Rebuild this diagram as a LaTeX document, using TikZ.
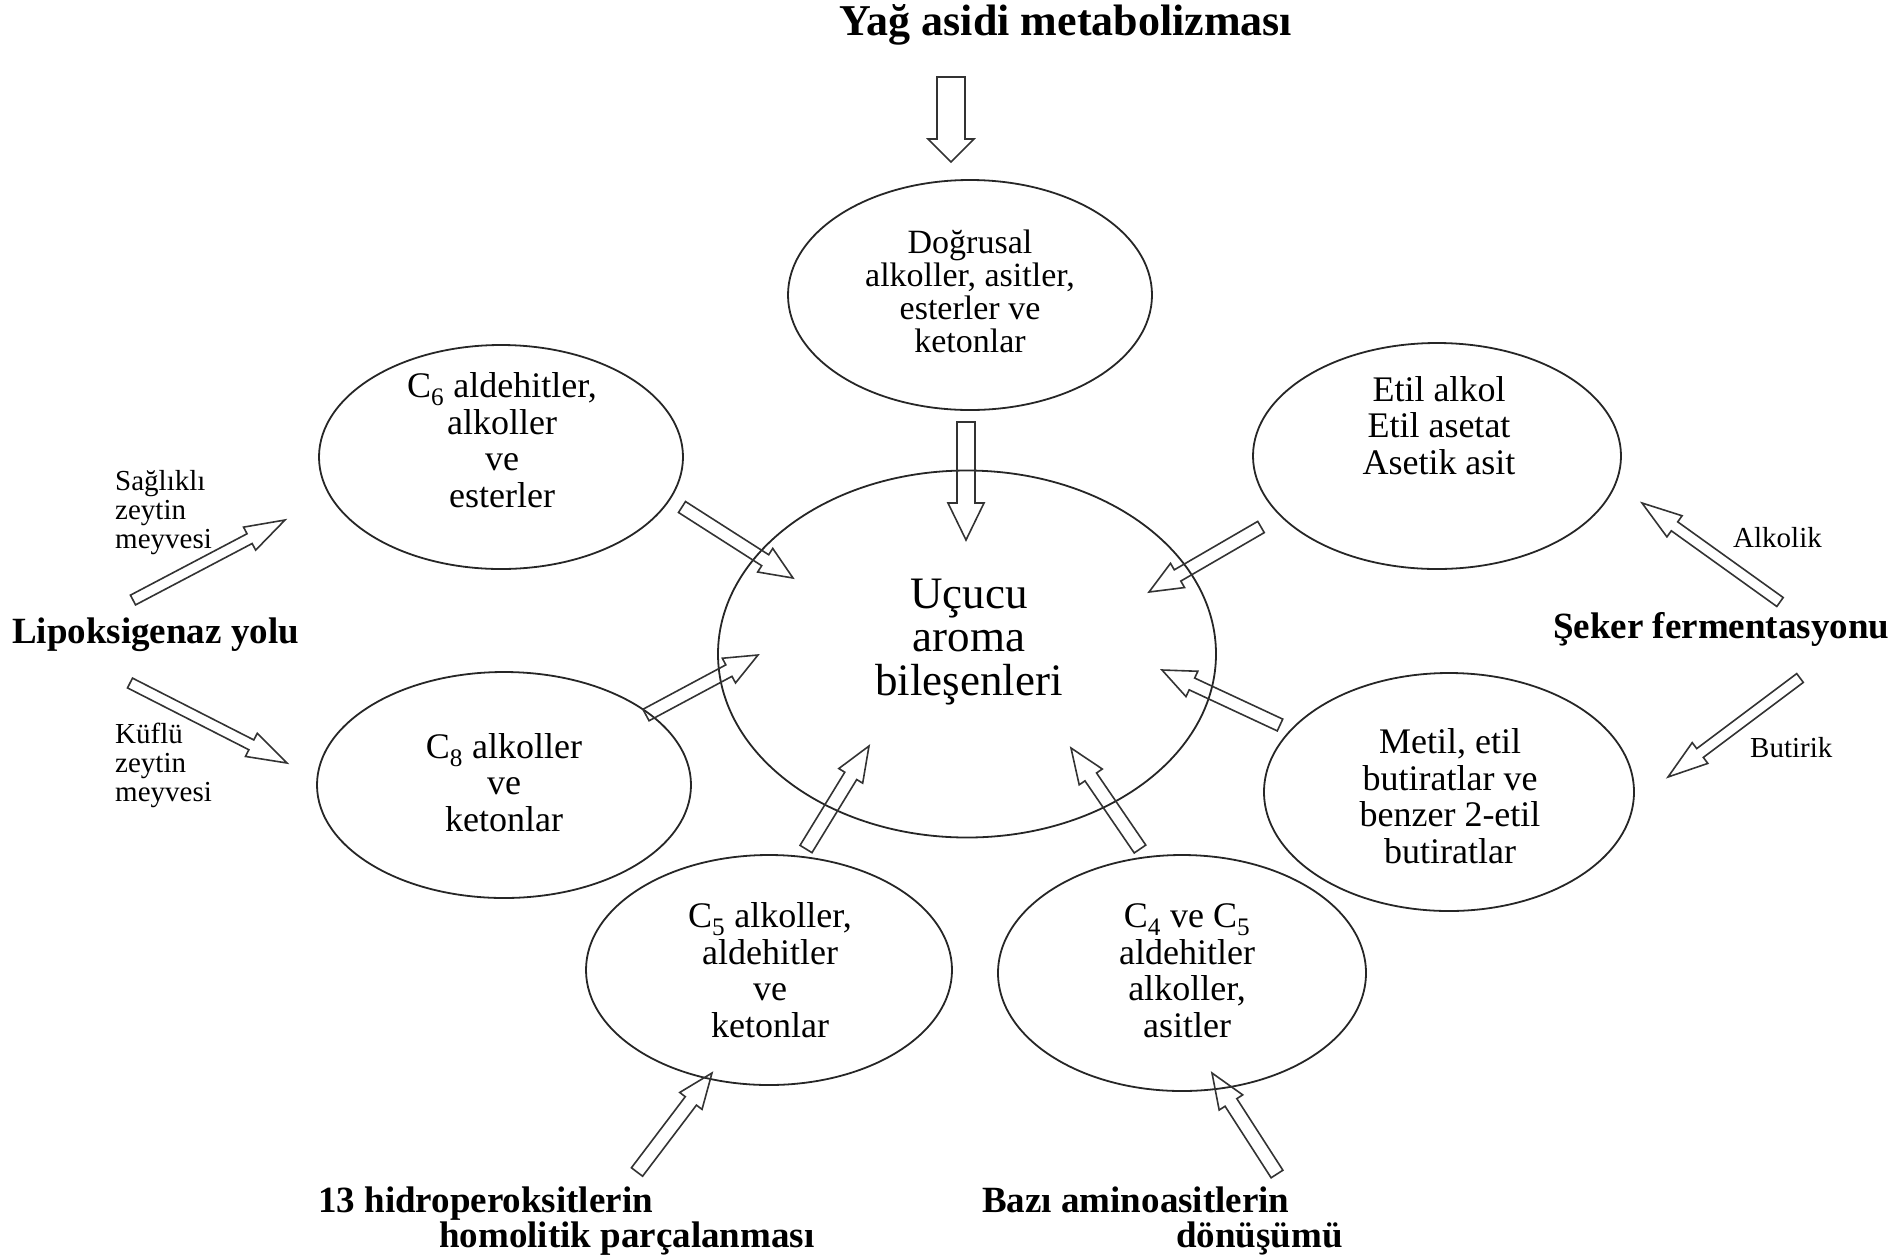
\documentclass[tikz,border=0pt]{standalone}
\usepackage{fontspec}
\setmainfont{Liberation Serif}
\usetikzlibrary{shapes.geometric,calc}

\tikzset{
  bubble/.style={draw=black!85, line width=1.8pt, ellipse, inner sep=0pt},
  btxt/.style={align=center, inner sep=0pt, anchor=base, font=\fontsize{36}{36.5}\selectfont},
  toptxt/.style={btxt, font=\fontsize{34}{33}\selectfont},
  centxt/.style={btxt, font=\fontsize{45}{43.5}\selectfont},
  labtxt/.style={inner sep=0pt, anchor=base west, font=\fontsize{37}{35}\selectfont\bfseries},
  titletxt/.style={inner sep=0pt, anchor=base, font=\fontsize{44}{44}\selectfont\bfseries},
  smalltxt/.style={align=left, inner sep=0pt, anchor=base west, font=\fontsize{29}{29}\selectfont},
  blk/.style={draw=black!80, line width=1.6pt, line join=miter}
}

% block arrow: tail, tip, half shaft width, half head width, head length
\newcommand\blockarrow[5]{%
  \coordinate (ba-h) at ($(#2)!#5!(#1)$);
  \draw[blk] ($(#1)!#3!90:(#2)$) -- ($(ba-h)!#3!90:(#2)$) -- ($(ba-h)!#4!90:(#2)$)
    -- (#2) -- ($(ba-h)!#4!-90:(#2)$) -- ($(ba-h)!#3!-90:(#2)$)
    -- ($(#1)!#3!-90:(#2)$) -- cycle;
}

\begin{document}
\begin{tikzpicture}[x=1pt,y=-1pt]
\useasboundingbox (0,0) rectangle (1901,1254);

% ellipses
\node[bubble, minimum width=364pt, minimum height=230pt] (dog) at (970,295) {};
\node[bubble, minimum width=498pt, minimum height=367pt] (mid) at (967,654) {};
\node[bubble, minimum width=364pt, minimum height=224pt] (c6) at (501,457) {};
\node[bubble, minimum width=368pt, minimum height=226pt] (etil) at (1437,456) {};
\node[bubble, minimum width=374pt, minimum height=226pt] (c8) at (504,785) {};
\node[bubble, minimum width=370pt, minimum height=238pt] (metil) at (1449,792) {};
\node[bubble, minimum width=366pt, minimum height=230pt] (c5) at (769,970) {};
\node[bubble, minimum width=368pt, minimum height=236pt] (c4) at (1182,973) {};

% texts inside the ellipses (anchored at the baseline of the last line)
\node[toptxt] (dogt) at (970,352) {Doğrusal\\alkoller, asitler,\\esterler ve\\ketonlar};
\node[centxt] (midt) at (969,695) {Uçucu\\aroma\\bileşenleri};
\node[btxt] (c6t) at (502,507) {C\textsubscript{6} aldehitler,\\alkoller\\ve\\esterler};
\node[btxt] (etilt) at (1439,474) {Etil alkol\\Etil asetat\\Asetik asit};
\node[btxt] (c8t) at (504,831) {C\textsubscript{8} alkoller\\ve\\ketonlar};
\node[btxt] (metilt) at (1450,863) {Metil, etil\\butiratlar ve\\benzer 2-etil\\butiratlar};
\node[btxt] (c5t) at (770,1037) {C\textsubscript{5} alkoller,\\aldehitler\\ve\\ketonlar};
\node[btxt] (c4t) at (1187,1037) {C\textsubscript{4} ve C\textsubscript{5}\\aldehitler\\alkoller,\\asitler};

% outer labels
\node[titletxt] (title) at (1066,35) {Yağ asidi metabolizması};
\node[labtxt] (lip) at (12,643) {Lipoksigenaz yolu};
\node[labtxt] (seker) at (1553,638) {Şeker fermentasyonu};
\node[labtxt] (hidroA) at (318,1212) {13 hidroperoksitlerin};
\node[labtxt] (hidroB) at (439,1247) {homolitik parçalanması};
\node[labtxt] (aminoA) at (982,1212) {Bazı aminoasitlerin};
\node[labtxt] (aminoB) at (1176,1247) {dönüşümü};
\node[smalltxt] (saglikli) at (115,548) {Sağlıklı\\zeytin\\meyvesi};
\node[smalltxt] (kuflu) at (115,801) {Küflü\\zeytin\\meyvesi};
\node[smalltxt] (alkolik) at (1733,547) {Alkolik};
\node[smalltxt] (butirik) at (1750,757) {Butirik};

% arrow end points
\coordinate (t0) at (951,77);    \coordinate (t1) at (951,162);
\coordinate (d0) at (966,422);   \coordinate (d1) at (966,540);
\coordinate (a0) at (682,507);   \coordinate (a1) at (793,578);
\coordinate (b0) at (1261,527);  \coordinate (b1) at (1149,592);
\coordinate (e0) at (646,715);   \coordinate (e1) at (758,655);
\coordinate (f0) at (1280,725);  \coordinate (f1) at (1162,670);
\coordinate (g0) at (806,849);   \coordinate (g1) at (869,746);
\coordinate (h0) at (1140,849);  \coordinate (h1) at (1071,748);
\coordinate (l0) at (133,600);   \coordinate (l1) at (285,520);
\coordinate (m0) at (130,683);   \coordinate (m1) at (287,763);
\coordinate (s0) at (1780,602);  \coordinate (s1) at (1642,503);
\coordinate (u0) at (1800,678);  \coordinate (u1) at (1668,777);
\coordinate (p0) at (637,1172);  \coordinate (p1) at (712,1073);
\coordinate (q0) at (1277,1174); \coordinate (q1) at (1212,1073);

% block arrows
\blockarrow{t0}{t1}{14pt}{23pt}{23pt}
\blockarrow{d0}{d1}{9pt}{18pt}{37pt}
\blockarrow{a0}{a1}{6.5pt}{14pt}{33pt}
\blockarrow{b0}{b1}{6.5pt}{14pt}{33pt}
\blockarrow{e0}{e1}{6.5pt}{14pt}{33pt}
\blockarrow{f0}{f1}{6.5pt}{14pt}{33pt}
\blockarrow{g0}{g1}{7pt}{14pt}{35pt}
\blockarrow{h0}{h1}{7pt}{14pt}{35pt}
\blockarrow{l0}{l1}{5.5pt}{13pt}{40pt}
\blockarrow{m0}{m1}{5.5pt}{13pt}{40pt}
\blockarrow{s0}{s1}{5.5pt}{13pt}{40pt}
\blockarrow{u0}{u1}{5.5pt}{13pt}{40pt}
\blockarrow{p0}{p1}{7pt}{14pt}{35pt}
\blockarrow{q0}{q1}{7pt}{14pt}{35pt}
\end{tikzpicture}
\end{document}
